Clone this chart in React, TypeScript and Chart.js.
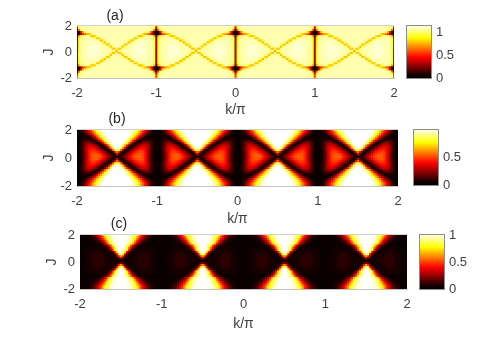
import React, { useEffect, useRef } from "react";
import { Chart, registerables } from "chart.js";

Chart.register(...registerables);

const kTicks = [-2, -1, 0, 1, 2];
const jTicks = [-2, 0, 2];

// One quarter tile: rows J = 0 .. 1.92 (step 0.16), columns k = 0 .. 0.5 (step 0.025).
const tileA: number[][] = [
  [0.25, 0.9, 1.02, 1.04, 1.05, 1.06, 1.07, 1.08, 1.08, 1.08, 1.08, 1.07, 1.06, 1.06, 1.05, 1.05, 1.04, 1.03, 1.02, 0.98, 0.68],
  [0.25, 0.9, 1.02, 1.04, 1.05, 1.06, 1.07, 1.08, 1.08, 1.08, 1.07, 1.07, 1.06, 1.05, 1.05, 1.04, 1.03, 0.98, 0.75, 0.75, 1.0],
  [0.25, 0.9, 1.02, 1.04, 1.05, 1.06, 1.06, 1.07, 1.07, 1.07, 1.07, 1.06, 1.06, 1.05, 1.04, 1.02, 0.95, 0.72, 0.98, 1.03, 1.04],
  [0.25, 0.9, 1.02, 1.04, 1.05, 1.05, 1.06, 1.06, 1.07, 1.07, 1.06, 1.06, 1.05, 1.03, 1.0, 0.75, 0.75, 1.0, 1.03, 1.04, 1.04],
  [0.25, 0.9, 1.02, 1.04, 1.04, 1.05, 1.05, 1.06, 1.06, 1.06, 1.05, 1.05, 1.02, 0.82, 0.72, 1.0, 1.03, 1.04, 1.04, 1.04, 1.04],
  [0.22, 0.88, 1.0, 1.03, 1.04, 1.04, 1.05, 1.05, 1.05, 1.05, 1.03, 0.98, 0.72, 0.8, 1.0, 1.03, 1.04, 1.04, 1.04, 1.04, 1.04],
  [0.18, 0.85, 0.99, 1.02, 1.04, 1.04, 1.04, 1.03, 1.02, 0.98, 0.75, 0.75, 0.99, 1.03, 1.04, 1.04, 1.04, 1.04, 1.04, 1.04, 1.04],
  [0.1, 0.72, 0.95, 1.0, 1.02, 1.02, 0.98, 0.8, 0.72, 0.78, 1.0, 1.03, 1.04, 1.04, 1.04, 1.04, 1.04, 1.04, 1.04, 1.04, 1.04],
  [0.02, 0.06, 0.3, 0.5, 0.62, 0.7, 0.74, 0.82, 1.0, 1.03, 1.04, 1.04, 1.04, 1.04, 1.04, 1.04, 1.04, 1.04, 1.04, 1.04, 1.04],
  [0.0, 0.04, 0.35, 0.7, 0.9, 0.98, 1.02, 1.04, 1.04, 1.04, 1.04, 1.04, 1.04, 1.04, 1.04, 1.04, 1.04, 1.04, 1.04, 1.04, 1.04],
  [0.1, 0.6, 0.95, 1.02, 1.04, 1.04, 1.04, 1.04, 1.04, 1.04, 1.04, 1.04, 1.04, 1.04, 1.04, 1.04, 1.04, 1.04, 1.04, 1.04, 1.04],
  [0.35, 0.9, 1.01, 1.03, 1.04, 1.04, 1.04, 1.04, 1.04, 1.04, 1.04, 1.04, 1.04, 1.04, 1.04, 1.04, 1.04, 1.04, 1.04, 1.04, 1.04],
  [0.55, 0.95, 1.02, 1.04, 1.04, 1.04, 1.04, 1.04, 1.04, 1.04, 1.04, 1.04, 1.04, 1.04, 1.04, 1.04, 1.04, 1.04, 1.04, 1.04, 1.04],
];

const tileB: number[][] = [
  [0.01, 0.01, 0.03, 0.08, 0.17, 0.28, 0.38, 0.45, 0.49, 0.5, 0.5, 0.48, 0.45, 0.4, 0.34, 0.27, 0.2, 0.13, 0.06, 0.02, 0.0],
  [0.01, 0.01, 0.03, 0.08, 0.17, 0.28, 0.38, 0.45, 0.48, 0.49, 0.48, 0.45, 0.41, 0.35, 0.28, 0.2, 0.13, 0.06, 0.01, 0.08, 0.3],
  [0.01, 0.01, 0.03, 0.09, 0.18, 0.29, 0.38, 0.44, 0.46, 0.46, 0.43, 0.39, 0.33, 0.26, 0.18, 0.11, 0.05, 0.01, 0.08, 0.35, 0.55],
  [0.01, 0.01, 0.04, 0.1, 0.19, 0.29, 0.37, 0.41, 0.42, 0.4, 0.36, 0.3, 0.23, 0.15, 0.08, 0.02, 0.01, 0.2, 0.5, 0.75, 0.82],
  [0.01, 0.01, 0.04, 0.1, 0.19, 0.28, 0.34, 0.37, 0.36, 0.32, 0.26, 0.19, 0.11, 0.04, 0.0, 0.12, 0.35, 0.6, 0.82, 0.95, 1.0],
  [0.01, 0.01, 0.04, 0.1, 0.18, 0.25, 0.3, 0.3, 0.27, 0.21, 0.14, 0.07, 0.02, 0.02, 0.18, 0.38, 0.6, 0.8, 0.95, 1.0, 1.0],
  [0.01, 0.01, 0.04, 0.09, 0.15, 0.2, 0.22, 0.2, 0.15, 0.09, 0.03, 0.01, 0.12, 0.32, 0.52, 0.7, 0.85, 0.95, 1.0, 1.0, 1.0],
  [0.01, 0.01, 0.03, 0.07, 0.1, 0.12, 0.11, 0.07, 0.02, 0.0, 0.08, 0.24, 0.4, 0.56, 0.72, 0.85, 0.94, 1.0, 1.0, 1.0, 1.0],
  [0.01, 0.01, 0.02, 0.03, 0.04, 0.03, 0.01, 0.02, 0.1, 0.2, 0.33, 0.47, 0.6, 0.72, 0.83, 0.92, 0.98, 1.0, 1.0, 1.0, 1.0],
  [0.01, 0.01, 0.01, 0.01, 0.01, 0.02, 0.06, 0.14, 0.24, 0.36, 0.5, 0.62, 0.75, 0.85, 0.93, 0.98, 1.0, 1.0, 1.0, 1.0, 1.0],
  [0.01, 0.01, 0.01, 0.03, 0.06, 0.11, 0.19, 0.29, 0.41, 0.53, 0.65, 0.75, 0.84, 0.92, 0.97, 1.0, 1.0, 1.0, 1.0, 1.0, 1.0],
  [0.01, 0.01, 0.02, 0.05, 0.11, 0.2, 0.3, 0.4, 0.5, 0.62, 0.73, 0.82, 0.89, 0.95, 0.98, 1.0, 1.0, 1.0, 1.0, 1.0, 1.0],
  [0.01, 0.01, 0.03, 0.08, 0.17, 0.28, 0.38, 0.49, 0.6, 0.71, 0.8, 0.87, 0.93, 0.97, 1.0, 1.0, 1.0, 1.0, 1.0, 1.0, 1.0],
];

const tileC: number[][] = [
  [0.01, 0.01, 0.01, 0.02, 0.02, 0.03, 0.04, 0.05, 0.05, 0.05, 0.05, 0.05, 0.04, 0.04, 0.03, 0.03, 0.02, 0.02, 0.01, 0.01, 0.0],
  [0.01, 0.01, 0.01, 0.02, 0.02, 0.03, 0.04, 0.05, 0.05, 0.05, 0.05, 0.05, 0.04, 0.04, 0.03, 0.03, 0.02, 0.02, 0.02, 0.12, 0.2],
  [0.01, 0.01, 0.01, 0.02, 0.02, 0.03, 0.04, 0.05, 0.05, 0.05, 0.05, 0.04, 0.04, 0.03, 0.03, 0.02, 0.02, 0.03, 0.1, 0.4, 0.6],
  [0.01, 0.01, 0.01, 0.02, 0.02, 0.03, 0.04, 0.04, 0.05, 0.05, 0.04, 0.04, 0.03, 0.03, 0.02, 0.02, 0.03, 0.1, 0.35, 0.75, 0.9],
  [0.01, 0.01, 0.01, 0.02, 0.02, 0.03, 0.03, 0.04, 0.04, 0.04, 0.04, 0.03, 0.03, 0.02, 0.02, 0.04, 0.12, 0.35, 0.7, 0.95, 1.0],
  [0.01, 0.01, 0.01, 0.01, 0.02, 0.02, 0.03, 0.03, 0.03, 0.03, 0.03, 0.02, 0.02, 0.02, 0.05, 0.18, 0.42, 0.72, 0.9, 1.0, 1.0],
  [0.01, 0.01, 0.01, 0.01, 0.01, 0.02, 0.02, 0.02, 0.02, 0.02, 0.02, 0.02, 0.03, 0.06, 0.16, 0.32, 0.56, 0.78, 0.92, 0.97, 1.0],
  [0.0, 0.01, 0.01, 0.01, 0.01, 0.01, 0.01, 0.01, 0.01, 0.01, 0.02, 0.03, 0.08, 0.16, 0.3, 0.49, 0.73, 0.85, 0.95, 0.98, 1.0],
  [0.0, 0.0, 0.01, 0.01, 0.01, 0.01, 0.01, 0.01, 0.02, 0.04, 0.08, 0.16, 0.27, 0.42, 0.65, 0.79, 0.9, 0.96, 0.98, 1.0, 1.0],
  [0.0, 0.0, 0.0, 0.01, 0.01, 0.01, 0.02, 0.02, 0.05, 0.09, 0.16, 0.26, 0.39, 0.57, 0.75, 0.84, 0.93, 0.96, 0.98, 1.0, 1.0],
  [0.0, 0.0, 0.0, 0.0, 0.01, 0.02, 0.03, 0.05, 0.09, 0.16, 0.25, 0.37, 0.52, 0.7, 0.79, 0.88, 0.95, 0.97, 0.98, 1.0, 1.0],
  [0.0, 0.0, 0.0, 0.01, 0.02, 0.03, 0.06, 0.09, 0.16, 0.24, 0.36, 0.48, 0.64, 0.76, 0.84, 0.92, 0.96, 0.97, 0.98, 1.0, 1.0],
  [0.0, 0.0, 0.01, 0.01, 0.03, 0.06, 0.09, 0.15, 0.23, 0.33, 0.43, 0.58, 0.73, 0.8, 0.87, 0.94, 0.96, 0.97, 0.98, 1.0, 1.0],
];

const colorLevels = [
  0, 1, 2, 3, 4, 5, 6, 7, 8, 9, 10, 11, 12, 13, 14, 15, 16, 17, 18, 19, 20, 21, 22, 23, 24, 25, 26, 27, 28, 29, 30, 31,
  32, 33, 34, 35, 36, 37, 38, 39, 40, 41, 42, 43, 44, 45, 46, 47, 48, 49, 50, 51, 52, 53, 54, 55, 56, 57, 58, 59, 60, 61, 62, 63,
];

function hot(t: number): string {
  const level = Math.min(63, Math.max(0, Math.floor(t * 64)));
  const u = (level + 1) / 64;
  const r = Math.min(1, u / 0.375);
  const g = Math.max(0, Math.min(1, (u - 0.375) / 0.375));
  const b = Math.max(0, Math.min(1, (u - 0.75) / 0.25));
  return `rgb(${Math.round(r * 255)},${Math.round(g * 255)},${Math.round(b * 255)})`;
}

const INK = "#404040";
const FONT = "'Liberation Sans', Arial, sans-serif";

type Box = { left: number; right: number; top: number; bottom: number };

function heatDatasets(tile: number[][], max: number) {
  const rows = [...tile].reverse().concat(tile.slice(1));
  const dJ = 0.16;
  const dK = 0.025;
  return rows.map((row, i) => {
    const centreJ = (i - 12) * dJ;
    const period = [...row, ...row.slice(1, -1).reverse()];
    const data: { x: number; y: [number, number] }[] = [];
    const colors: string[] = [];
    for (let n = 0; n <= 160; n++) {
      data.push({
        x: -2 + n * dK + 0.0062,
        y: [centreJ - dJ / 2, centreJ + dJ / 2 + 0.09],
      });
      colors.push(hot(period[n % 40] / max));
    }
    return {
      data,
      backgroundColor: colors,
      borderWidth: 0,
      grouped: false,
      barPercentage: 1.5,
      categoryPercentage: 1,
    };
  });
}

function panelConfig(
  tile: number[][],
  max: number,
  box: Box,
  label: string,
  labelX: number,
  labelY: number,
  canvasLeft: number,
  canvasH: number
) {
  const W = 490;
  const textPlugin = {
    id: "panelLabel",
    afterDraw(chart: any) {
      const { ctx, chartArea: a } = chart;
      ctx.save();
      ctx.strokeStyle = "#d0d0d0";
      ctx.lineWidth = 1;
      ctx.beginPath();
      ctx.moveTo(a.left, a.top - 0.5);
      ctx.lineTo(a.right, a.top - 0.5);
      ctx.stroke();
      ctx.font = `14px ${FONT}`;
      ctx.fillStyle = "#262626";
      ctx.textAlign = "center";
      ctx.textBaseline = "middle";
      ctx.fillText(label, labelX, labelY);
      ctx.restore();
    },
  };
  return {
    type: "bar",
    data: { datasets: heatDatasets(tile, max) },
    plugins: [textPlugin],
    options: {
      responsive: false,
      animation: false,
      events: [],
      layout: { padding: { left: canvasLeft, right: W - box.right, top: box.top, bottom: 0 } },
      plugins: { legend: { display: false }, tooltip: { enabled: false } },
      scales: {
        x: {
          type: "linear",
          min: -2,
          max: 2,
          offset: false,
          grid: { display: false, drawTicks: false },
          border: { display: true, color: "#c4c4c4", width: 1 },
          afterTickToLabelConversion(s: any) {
            s.ticks = kTicks.map((value) => ({ value, label: String(value) }));
          },
          afterFit(s: any) {
            s.height = canvasH - box.bottom;
          },
          ticks: { color: INK, font: { family: FONT, size: 13 }, maxRotation: 0, autoSkip: false, padding: 8 },
          title: { display: true, text: "k/π", color: INK, font: { family: FONT, size: 14 }, padding: { top: 0, bottom: 0 } },
        },
        y: {
          min: -2,
          max: 2,
          grid: { display: false, drawTicks: false },
          border: { display: false },
          afterTickToLabelConversion(s: any) {
            s.ticks = jTicks.map((value) => ({ value, label: String(value) }));
          },
          afterFit(s: any) {
            s.width = box.left - canvasLeft;
          },
          ticks: { color: INK, font: { family: FONT, size: 13 }, autoSkip: false, padding: 5 },
          title: { display: true, text: "J", color: INK, font: { family: FONT, size: 14 }, padding: { top: 0, bottom: 0 } },
        },
      },
    },
  };
}

function barConfig(max: number, ticks: number[], box: Box) {
  const W = 490;
  const H = 346;
  return {
    type: "bar",
    data: {
      datasets: colorLevels.map((lv) => ({
        data: [{ x: "0", y: [(lv / 64) * max, ((lv + 1) / 64) * max + 0.03] as [number, number] }],
        backgroundColor: hot((lv + 0.5) / 64),
        borderWidth: 0,
        grouped: false,
        barPercentage: 1,
        categoryPercentage: 1,
      })),
    },
    options: {
      responsive: false,
      animation: false,
      events: [],
      layout: { padding: { left: box.left, right: 0, top: box.top, bottom: H - box.bottom } },
      plugins: { legend: { display: false }, tooltip: { enabled: false } },
      scales: {
        x: {
          type: "category",
          labels: ["0"],
          offset: true,
          grid: { display: false, drawTicks: false },
          border: { display: false },
          ticks: { display: false },
          afterFit(s: any) {
            s.height = 0;
          },
        },
        y: {
          position: "right",
          min: 0,
          max,
          grid: { display: false, drawTicks: false },
          border: { display: false },
          afterTickToLabelConversion(s: any) {
            s.ticks = ticks.map((value) => ({ value, label: String(value) }));
          },
          afterFit(s: any) {
            s.width = W - box.right;
          },
          ticks: { color: INK, font: { family: FONT, size: 13 }, autoSkip: false, padding: 5 },
        },
      },
    },
    plugins: [
      {
        id: "frame",
        afterDraw(chart: any) {
          const { ctx, chartArea: a } = chart;
          ctx.save();
          ctx.strokeStyle = "#8c8c8c";
          ctx.lineWidth = 1;
          ctx.strokeRect(a.left - 0.5, a.top - 0.5, a.right - a.left + 1, a.bottom - a.top + 1);
          ctx.restore();
        },
      },
    ],
  };
}

const canvasHeights = [119, 228, 333, 346, 346, 346];

export default function App() {
  const refs = useRef<(HTMLCanvasElement | null)[]>([]);
  useEffect(() => {
    const configs: any[] = [
      panelConfig(tileA, 1.14, { left: 77, right: 394, top: 26, bottom: 78 }, "(a)", 115, 16, 41, canvasHeights[0]),
      panelConfig(tileB, 0.99, { left: 77, right: 398, top: 130, bottom: 186 }, "(b)", 117, 119, 41, canvasHeights[1]),
      panelConfig(tileC, 1.0, { left: 80, right: 407, top: 235, bottom: 289 }, "(c)", 119, 224, 44, canvasHeights[2]),
      barConfig(1.14, [0, 0.5, 1], { left: 407, right: 431, top: 26, bottom: 78 }),
      barConfig(0.99, [0, 0.5], { left: 414, right: 438, top: 130, bottom: 185 }),
      barConfig(1.0, [0, 0.5, 1], { left: 420, right: 444, top: 235, bottom: 289 }),
    ];
    const charts = configs.map((c, i) => new Chart(refs.current[i] as HTMLCanvasElement, c));
    return () => charts.forEach((c) => c.destroy());
  }, []);
  return (
    <div style={{ position: "absolute", left: 0, top: 0, width: 490, height: 346, background: "#fff" }}>
      {canvasHeights.map((h, i) => (
        <canvas
          key={i}
          ref={(el) => {
            refs.current[i] = el;
          }}
          width={490}
          height={h}
          style={{ position: "absolute", left: 0, top: 0, width: 490, height: h }}
        />
      ))}
    </div>
  );
}
